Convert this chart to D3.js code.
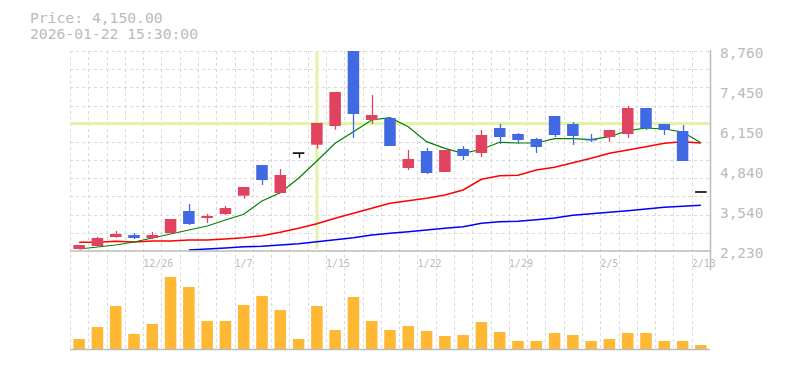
<!DOCTYPE html>
<html>
<head>
<meta charset="utf-8">
<script src="https://cdn.jsdelivr.net/npm/d3@7"></script>
<style>
	body { margin: 0; background: #ffffff; }
	text { font-family: "DejaVu Sans Mono", "Liberation Mono", monospace; }
</style>
</head>
<body>
<div id="chart"></div>
<script>

// data
const dates = ["12/22","12/23","12/24","12/25","12/26","12/29","12/30","1/5","1/6","1/7",
	"1/8","1/9","1/13","1/14","1/15","1/16","1/19","1/20","1/21","1/22",
	"1/23","1/26","1/27","1/28","1/29","1/30","2/2","2/3","2/4","2/5",
	"2/6","2/9","2/10","2/12","2/13"];

const openPrices  = [2295,2393,2687,2752,2654,2818,3536,3307,3438,4036,5038,4124,5420,5700,6311,8760,6507,6572,4940,5495,4809,5560,5430,6246,6050,5887,6638,6377,5890,5952,6050,6899,6377,6148,4150];
const highPrices  = [2426,2687,2883,2818,2850,3275,3765,3438,3699,4320,5038,4907,5420,6409,7422,8760,7323,6572,5528,5593,5528,5658,6181,6377,6083,5920,6638,6442,6050,6181,6964,6899,6377,6344,4150];
const lowPrices   = [2295,2393,2664,2622,2622,2785,3079,3144,3405,3938,4385,4124,5276,5570,6190,5919,6377,5658,4875,4744,4809,5201,5299,5724,5724,5430,5952,5691,5789,5789,5919,6181,6017,5169,4150];
const closePrices = [2426,2654,2785,2654,2752,3275,3112,3373,3634,4320,4548,4711,5420,6409,7422,6703,6670,5658,5234,4777,5528,5332,6017,5952,5854,5626,6017,5985,5870,6181,6899,6246,6181,5169,4150];

// volume (thousand shares)
const volumes = [10,22,43,15,25,72,62,28,28,44,53,39,10,43,19,52,28,19,23,18,13,14,27,17,8,8,16,14,8,10,16,16,8,8,4];

// moving averages
const ma5  = [2295,2361,2426,2524,2654,2785,2916,3046,3242,3428,3863,4134,4604,5169,5746,6125,6507,6582,6288,5799,5583,5420,5551,5779,5756,5756,5897,5897,5864,5962,6158,6246,6213,6115,5766];
const ma25 = [2514,2514,2547,2524,2557,2557,2589,2589,2622,2664,2730,2841,2971,3121,3298,3461,3624,3787,3872,3951,4058,4222,4571,4689,4702,4875,4963,5113,5257,5420,5528,5635,5746,5799,5756];
const ma75 = [null,null,null,null,null,null,2263,2295,2328,2370,2383,2426,2468,2534,2599,2664,2752,2808,2860,2916,2971,3023,3134,3187,3200,3252,3307,3396,3448,3494,3546,3601,3657,3690,3722];

// axis labels
const priceTicks = [8760, 7450, 6150, 4840, 3540, 2230];
const dateTicks = ["12/26","1/7","1/15","1/22","1/29","2/5","2/13"];

// crosshair
const crossDate = "1/14";
const crossPrice = 6390;
const infoLines = ["Price: 4,150.00", "2026-01-22 15:30:00"];

// sizes and colours
const totalWidth = 785, h = 370;
const margin = {left: 70, right: 75, top: 51, priceBottom: 251, volTop: 262, volBottom: 349};
const upColor = "#e0435f";
const downColor = "#4169e1";
const volColor = "#ffb833";
const gridColor = "#d9d9d9";
const axisColor = "#bbbbbb";
const fontFill = "#bbbbbb";

const data = dates.map((d, i) => ({
	date: d, open: openPrices[i], high: highPrices[i], low: lowPrices[i], close: closePrices[i],
	volume: volumes[i], ma5: ma5[i], ma25: ma25[i], ma75: ma75[i]
}));

// scales
const x = d3.scaleBand()
	.domain(dates)
	.range([margin.left, totalWidth - margin.right]);

const y = d3.scaleLinear()
	.domain([2230, 8760])
	.range([margin.priceBottom, margin.top]);

const yVol = d3.scaleLinear()
	.domain([0, 87])
	.range([margin.volBottom, margin.volTop]);

const bodyW = x.bandwidth() * 0.63;
const cx = d => x(d) + x.bandwidth() / 2;

const svg = d3.select("#chart")
	.append("svg")
	.attr("width", totalWidth)
	.attr("height", h);

// info text top left
svg.append("g")
	.selectAll("text")
	.data(infoLines)
	.join("text")
		.attr("x", 30)
		.attr("y", (d, i) => 23 + i * 15.5)
		.style("font-size", "14.7px")
		.style("fill", fontFill)
		.text(d => d);

// grid: horizontal lines in the price panel
const hGrid = d3.range(12).map(i => margin.top + i * (margin.priceBottom - margin.top) / 11);
svg.append("g")
	.selectAll("line")
	.data(hGrid.slice(0, 11))
	.join("line")
		.attr("x1", margin.left)
		.attr("x2", totalWidth - margin.right)
		.attr("y1", d => Math.round(d) + 0.5)
		.attr("y2", d => Math.round(d) + 0.5)
		.attr("stroke", gridColor)
		.attr("stroke-dasharray", "3,3");

// grid: vertical lines at every band edge
svg.append("g")
	.selectAll("line")
	.data(dates)
	.join("line")
		.attr("x1", d => Math.round(x(d)) + 0.5)
		.attr("x2", d => Math.round(x(d)) + 0.5)
		.attr("y1", margin.top)
		.attr("y2", margin.volBottom)
		.attr("stroke", gridColor)
		.attr("stroke-dasharray", "3,3");

// x labels, left aligned on the band edge
svg.append("g")
	.selectAll("text")
	.data(dateTicks)
	.join("text")
		.attr("x", d => x(d))
		.attr("y", 267)
		.style("font-size", "10px")
		.style("fill", fontFill)
		.text(d => d);

// crosshair
svg.append("line")
	.attr("x1", margin.left)
	.attr("x2", totalWidth - margin.right)
	.attr("y1", y(crossPrice))
	.attr("y2", y(crossPrice))
	.attr("stroke", "#e3f3a6")
	.attr("stroke-width", 3);

svg.append("line")
	.attr("x1", cx(crossDate))
	.attr("x2", cx(crossDate))
	.attr("y1", margin.top)
	.attr("y2", margin.priceBottom - 2)
	.attr("stroke", "#e3f3a6")
	.attr("stroke-width", 3);

// moving average lines
const maLines = [
	{key: "ma75", color: "#0000ff", width: 1.5},
	{key: "ma25", color: "#ff0000", width: 1.5},
	{key: "ma5", color: "#008000", width: 1.2}
];

maLines.forEach(function(m) {
	const line = d3.line()
		.defined(d => d[m.key] != null)
		.x(d => cx(d.date))
		.y(d => y(d[m.key]));

	svg.append("path")
		.datum(data)
		.attr("fill", "none")
		.attr("stroke", m.color)
		.attr("stroke-width", m.width)
		.attr("d", line);
});

// candle colour: red up, blue down, black unchanged
const candleColor = d => d.close > d.open ? upColor : (d.close < d.open ? downColor : "#000000");

const candles = svg.append("g")
	.selectAll("g")
	.data(data)
	.join("g");

// wicks
candles.append("line")
	.attr("x1", d => Math.round(cx(d.date)) + 0.5)
	.attr("x2", d => Math.round(cx(d.date)) + 0.5)
	.attr("y1", d => y(d.high))
	.attr("y2", d => y(d.low))
	.attr("stroke", candleColor)
	.attr("stroke-width", 1.3);

// bodies
candles.append("rect")
	.attr("x", d => cx(d.date) - bodyW / 2)
	.attr("y", d => d.open === d.close ? y(d.open) - 1 : y(Math.max(d.open, d.close)))
	.attr("width", bodyW)
	.attr("height", d => Math.max(1.6, Math.abs(y(d.open) - y(d.close))))
	.attr("fill", candleColor);

// volume bars
svg.append("g")
	.selectAll("rect")
	.data(data)
	.join("rect")
		.attr("x", d => cx(d.date) - bodyW / 2)
		.attr("y", d => yVol(d.volume))
		.attr("width", bodyW)
		.attr("height", d => yVol(0) - yVol(d.volume))
		.attr("fill", volColor);

// axis lines
svg.append("line")
	.attr("x1", margin.left)
	.attr("x2", totalWidth - margin.right)
	.attr("y1", margin.priceBottom)
	.attr("y2", margin.priceBottom)
	.attr("stroke", axisColor)
	.attr("stroke-width", 1.5);

svg.append("line")
	.attr("x1", margin.left)
	.attr("x2", totalWidth - margin.right)
	.attr("y1", margin.volBottom + 0.5)
	.attr("y2", margin.volBottom + 0.5)
	.attr("stroke", axisColor)
	.attr("stroke-width", 1.5);

svg.append("line")
	.attr("x1", totalWidth - margin.right + 0.5)
	.attr("x2", totalWidth - margin.right + 0.5)
	.attr("y1", margin.top - 1)
	.attr("y2", 270)
	.attr("stroke", axisColor)
	.attr("stroke-width", 1.5);

// price labels on the right
svg.append("g")
	.selectAll("text")
	.data(priceTicks)
	.join("text")
		.attr("x", 720)
		.attr("y", d => y(d) + 7.3)
		.style("font-size", "14.4px")
		.style("fill", fontFill)
		.text(d => d3.format(",")(d));

</script>
</body>
</html>
